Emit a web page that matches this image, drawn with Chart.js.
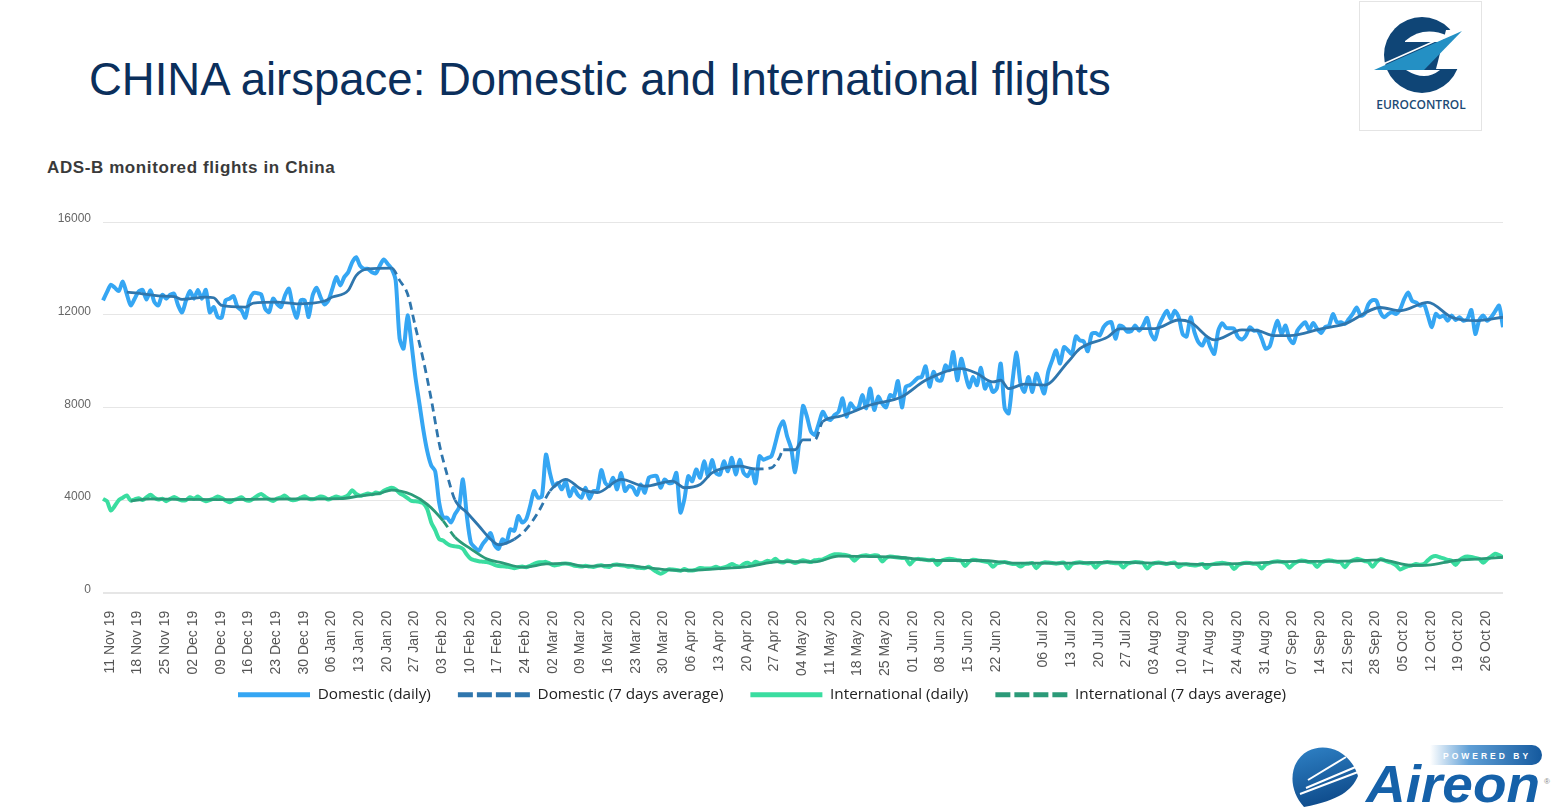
<!DOCTYPE html>
<html>
<head>
<meta charset="utf-8">
<title>CHINA airspace</title>
<script src="https://cdn.jsdelivr.net/npm/chart.js@4"></script>
<style>
    html, body { margin: 0; background: #fff; width: 1558px; height: 811px; overflow: hidden; }
    #title { position: absolute; left: 89px; top: 54px; margin: 0; font: 400 45.5px "Liberation Sans", Arial, sans-serif; color: #0b2f5c; white-space: nowrap; }
    #subtitle { position: absolute; left: 47px; top: 158px; margin: 0; font: 700 17px "Liberation Sans", Arial, sans-serif; letter-spacing: 0.6px; color: #3a3a3a; white-space: nowrap; }
    #chartBox { position: absolute; left: 21px; top: 200px; width: 1482px; height: 531px; }
    #euroLogo, #aireonLogo { position: absolute; left: 0; top: 0; }
</style>
</head>
<body>
<h1 id="title">CHINA airspace: Domestic and International flights</h1>
<h2 id="subtitle">ADS-B monitored flights in China</h2>

<svg id="euroLogo" width="1558" height="140">
    <rect x="1359.5" y="1.5" width="122" height="129" fill="#fff" stroke="#e4e4e4"/>
    <circle cx="1422" cy="55" r="38" fill="#0f4576"/>
    <path d="M1405 41 Q1424 25 1448 36 L1440 42 L1405 42 Z" fill="#fff"/>
    <path d="M1446 30 L1470 30 L1470 69 L1436 69 Z" fill="#fff"/>
    <path d="M1374 70 L1462 31 L1424 70 Z" fill="#2490c4"/>
    <path d="M1372 69 L1462 29" stroke="#fff" stroke-width="1.5" fill="none"/>
    <path d="M1406 70 L1440 70 Q1425 82 1406 70 Z" fill="#fff"/>
    <text x="1421" y="109" text-anchor="middle" font-family="Open Sans" font-weight="600" font-size="12" fill="#1c4a75">EUROCONTROL</text>
</svg>

<svg id="aireonLogo" width="1558" height="811" style="pointer-events:none">
    <defs>
        <linearGradient id="pill" x1="0" x2="1" y1="0" y2="0">
            <stop offset="0" stop-color="#ffffff"/>
            <stop offset="0.35" stop-color="#5f9fd6"/>
            <stop offset="1" stop-color="#14599e"/>
        </linearGradient>
        <linearGradient id="globe" x1="0" x2="0.3" y1="0" y2="1">
            <stop offset="0" stop-color="#2f82c6"/>
            <stop offset="1" stop-color="#0f4c8c"/>
        </linearGradient>
    </defs>
    <path d="M1430 745 H1532 a10 10 0 0 1 0 20 H1430 Z" fill="url(#pill)"/>
    <text x="1443" y="759" font-family="Liberation Sans" font-weight="700" font-size="8.5" letter-spacing="3" fill="#fff">POWERED BY</text>
    <path d="M1304 807 C1288 790 1288 762 1308 751 C1325 742 1350 750 1358 776 C1352 790 1340 800 1304 807 Z" fill="url(#globe)"/>
    <path d="M1308 780 L1346 757 M1300 794 L1358 772 M1306 788 L1358 766" stroke="#fff" stroke-width="2" fill="none"/>
    <text x="1366" y="802" font-family="Liberation Sans" font-weight="700" font-style="italic" font-size="52" fill="#1561a9" textLength="174" lengthAdjust="spacingAndGlyphs">Aireon</text>
    <text x="1544" y="784" font-family="Liberation Sans" font-size="8" fill="#888">®</text>
</svg>

<div id="chartBox"><canvas id="flightsChart" width="1482" height="531"></canvas></div>

<script>
// Tick labels as printed on the x axis (29 Jun is not on the original)
const tickLabels = [
    '11 Nov 19', '18 Nov 19', '25 Nov 19', '02 Dec 19', '09 Dec 19', '16 Dec 19', '23 Dec 19', '30 Dec 19',
    '06 Jan 20', '13 Jan 20', '20 Jan 20', '27 Jan 20', '03 Feb 20', '10 Feb 20', '17 Feb 20', '24 Feb 20',
    '02 Mar 20', '09 Mar 20', '16 Mar 20', '23 Mar 20', '30 Mar 20', '06 Apr 20', '13 Apr 20', '20 Apr 20',
    '27 Apr 20', '04 May 20', '11 May 20', '18 May 20', '25 May 20', '01 Jun 20', '08 Jun 20', '15 Jun 20',
    '22 Jun 20', '06 Jul 20', '13 Jul 20', '20 Jul 20', '27 Jul 20', '03 Aug 20', '10 Aug 20', '17 Aug 20',
    '24 Aug 20', '31 Aug 20', '07 Sep 20', '14 Sep 20', '21 Sep 20', '28 Sep 20', '05 Oct 20', '12 Oct 20',
    '19 Oct 20', '26 Oct 20'
];
const yTicks = [0, 4000, 8000, 12000, 16000];
const seriesNames = ['Domestic (daily)', 'Domestic (7 days average)', 'International (daily)', 'International (7 days average)'];

// daily flights, one value per day starting 10 Nov 19
const domesticDaily = [
    12620,12970,13290,13160,13020,13430,12900,12400,12690,13000,
    13070,12650,13050,12540,12400,12860,12690,12860,12900,12400,
    12100,12620,13020,12690,13070,12690,13070,12100,12330,11900,
    11870,12620,12690,12800,12330,12190,11870,12620,12930,12930,
    12870,12260,12110,12690,12470,12330,12830,13120,12330,11870,
    12620,12620,11900,12830,13160,12760,12440,12620,13120,13620,
    13260,13620,13830,14260,14480,14120,13980,13980,13830,13790,
    14120,14380,14190,13980,13480,10970,10540,11970,10750,9300,
    8170,7030,6100,5490,5240,3890,3240,3240,3030,3390,
    3670,4890,3310,2170,1960,1810,2100,2310,2570,2060,
    1890,2310,2170,2740,2670,3310,3030,3170,3740,4390,
    4100,4170,5960,5170,4600,4740,4460,4810,4170,4530,
    4240,4100,4530,4060,4390,4390,5290,4740,4600,4960,
    4460,5170,4390,4600,4530,4220,4670,4320,4960,5030,
    5030,4530,4890,4740,4740,5170,3460,4030,5030,4810,
    5320,4960,5670,5030,5720,5170,5100,5670,5240,5820,
    5100,5740,5170,5030,5320,4720,5890,5740,5810,5890,
    6450,7100,7390,6740,6240,5200,6450,8060,7600,6960,
    6810,7310,7810,7530,7460,7670,7810,8390,7600,8170,
    7960,7960,8530,7960,8810,7890,8460,8170,8000,8530,
    8460,9140,8000,8890,8960,9100,9270,9310,9770,8890,
    9530,9170,9170,9810,9600,10390,9170,10100,9460,8860,
    9310,8960,9710,8810,9100,8670,8810,9890,7960,7740,
    9170,10360,9030,8670,9310,8670,9460,9030,8600,9530,
    10030,10460,9890,10600,10460,10310,11060,10890,10840,10420,
    11170,11210,11100,11460,11640,11670,10960,11530,11460,11270,
    11290,11530,11310,11530,11860,11170,10930,11530,11890,12170,
    11810,12170,11890,11170,11060,11890,11240,10810,10670,11030,
    10600,10310,11310,11630,11430,11410,11390,11030,10930,11100,
    11460,11310,11310,10960,10530,10630,11240,11740,11170,11530,
    10960,10770,11310,11530,11670,11340,11640,11390,11210,11460,
    11530,12030,11670,11670,11600,11810,12030,12310,11960,12030,
    12460,12630,12600,12100,11890,12030,12100,12030,12240,12670,
    12960,12600,12530,12390,12460,11960,11460,12030,11890,11960,
    11740,11960,11770,11890,11740,11810,12200,11170,11770,11960,
    11740,11890,12140,12390,11460
];
const internationalDaily = [
    4050,3950,3550,3750,4000,4100,4200,3980,4030,4080,
    4000,4120,4230,4100,4020,4060,3950,4050,4130,4040,
    3980,4000,4120,4060,4150,4020,3950,4000,4060,4150,
    4090,3980,3900,4000,4050,4120,4000,3970,4060,4180,
    4260,4140,4030,3960,4060,4110,4190,4050,3990,4020,
    4100,4160,4060,4030,4080,4150,4120,4020,4090,4150,
    4100,4130,4220,4420,4260,4180,4230,4280,4250,4320,
    4290,4400,4480,4530,4460,4300,4200,4080,3960,3950,
    3920,3860,3600,3030,2700,2320,2250,2120,2030,2000,
    1980,1890,1650,1460,1400,1360,1340,1320,1280,1200,
    1150,1140,1120,1100,1060,1100,1130,1100,1160,1250,
    1310,1310,1330,1260,1180,1200,1250,1260,1240,1170,
    1150,1130,1160,1130,1110,1160,1180,1130,1110,1200,
    1220,1180,1160,1120,1130,1080,1070,1060,1120,1010,
    900,815,900,1010,1000,980,950,1020,960,960,
    1000,1070,1050,1040,1060,1120,1060,1090,1150,1240,
    1160,1120,1240,1290,1210,1340,1270,1300,1380,1340,
    1460,1340,1300,1390,1350,1280,1340,1400,1360,1320,
    1400,1420,1440,1520,1600,1660,1660,1640,1620,1560,
    1380,1540,1600,1620,1580,1620,1600,1350,1500,1560,
    1540,1520,1500,1480,1220,1400,1460,1440,1420,1400,
    1420,1200,1380,1440,1460,1440,1400,1380,1150,1340,
    1420,1400,1380,1340,1300,1120,1260,1300,1320,1280,
    1240,1230,1130,1230,1250,1280,1060,1240,1310,1300,
    1280,1250,1280,1300,1040,1230,1290,1310,1280,1260,
    1280,1080,1250,1300,1320,1290,1270,1260,1090,1250,
    1300,1330,1310,1280,1040,1210,1280,1300,1270,1240,
    1280,1300,1110,1210,1230,1190,1170,1200,1240,1070,
    1200,1240,1270,1290,1260,1230,1020,1190,1260,1290,
    1280,1250,1230,1040,1220,1290,1340,1360,1330,1280,
    1080,1240,1340,1390,1370,1320,1300,1110,1300,1370,
    1400,1370,1330,1310,1100,1300,1400,1460,1420,1370,
    1330,1120,1320,1450,1400,1330,1280,1180,1000,1080,
    1150,1180,1240,1210,1240,1400,1540,1580,1530,1480,
    1420,1380,1200,1400,1520,1560,1540,1500,1460,1290,
    1450,1560,1680,1620,1530
];

// 7 day averages at these day numbers
const domesticAvgDays = [
    6,10,14,18,20,26,28,30,36,38,44,49,56,58,62,64,67,73,75,77,79,81,83,85,87,89,92,95,98,100,
    104,107,110,113,115,117,121,125,131,137,144,147,151,154,161,165,169,171,172,175,177,180,182,186,
    194,202,208,217,221,225,227,229,233,238,244,247,254,257,266,272,275,281,288,292,296,300,308,314,
    323,328,335,341,347,354
];
const domesticAvgValues = [
    12970,12900,12810,12780,12660,12760,12730,12400,12330,12500,12540,12470,12590,12760,13050,13690,13980,14010,13480,12900,11470,10040,8350,6450,5100,4000,3460,2890,2310,2070,
    2310,2740,3460,4390,4720,4890,4460,4320,4890,4600,4820,4530,4670,5170,5460,5340,5390,5820,6170,6170,6600,6600,7390,7600,
    8100,8460,9170,9670,9460,9100,9170,8810,9000,8960,9960,10530,11030,11390,11400,11770,11670,10910,11340,11310,11100,11100,11390,11600,
    12310,12170,12530,11890,11740,11890
];
const internationalAvgDays = [
    7,12,20,30,40,50,60,65,70,73,78,82,86,89,93,97,101,106,112,117,122,131,137,142,148,155,163,171,
    180,186,194,201,211,222,231,243,255,267,278,290,302,314,323,331,335,342,348,354
];
const internationalAvgValues = [
    3950,4050,4030,4020,4040,4050,4060,4180,4290,4430,4240,3810,3100,2390,1890,1460,1290,1100,1240,1270,1140,1200,1090,1000,960,1030,1130,1340,
    1330,1580,1560,1530,1390,1390,1275,1275,1320,1275,1220,1275,1350,1360,1420,1175,1190,1390,1460,1530
];

// daily categories, the two days after 28 Jun 20 are absent from the source axis
const monthNames = ['Jan', 'Feb', 'Mar', 'Apr', 'May', 'Jun', 'Jul', 'Aug', 'Sep', 'Oct', 'Nov', 'Dec'];
const categories = [];
for (let t = Date.UTC(2019, 10, 10); categories.length < domesticDaily.length; t += 86400000) {
    const d = new Date(t);
    const label = String(d.getUTCDate()).padStart(2, '0') + ' ' + monthNames[d.getUTCMonth()] + ' ' + String(d.getUTCFullYear()).slice(2);
    if (label !== '29 Jun 20' && label !== '30 Jun 20') categories.push(label);
}

// Averages are kept sparse, line is spanned over the gaps
function sparse(days, values) {
    const out = categories.map(_ => null);
    days.forEach((d, i) => { out[d] = values[i]; });
    return out;
}

const dashDomestic = [[74, 89], [106, 113], [165, 172], [179, 182]];
const dashInternational = [[86, 89]];
const dashedIn = spans => ctx => spans.some(s => ctx.p0DataIndex >= s[0] && ctx.p0DataIndex < s[1]) ? [8, 5] : [];
const legendDash = [15, 4];

// Legend sits closer to the rotated tick labels than the layout allows
const raiseLegend = {
    id: 'raiseLegend',
    afterLayout(chart) {
        chart.legend.top -= 18.5;
        chart.legend.bottom -= 18.5;
    }
};

const flightsConfig = {
    type: 'line',
    plugins: [raiseLegend],
    data: {
        labels: categories,
        datasets: [{
            label: seriesNames[0],
            data: domesticDaily,
            borderColor: '#35a6f3',
            borderWidth: 4,
            tension: 0.25,
            order: 3,
        }, {
            label: seriesNames[1],
            data: sparse(domesticAvgDays, domesticAvgValues),
            borderColor: '#2f76ad',
            borderWidth: 2.8,
            cubicInterpolationMode: 'monotone',
            spanGaps: true,
            segment: { borderDash: dashedIn(dashDomestic) },
            order: 1,
        }, {
            label: seriesNames[2],
            data: internationalDaily,
            borderColor: '#3adda0',
            borderWidth: 4,
            tension: 0.25,
            order: 4,
        }, {
            label: seriesNames[3],
            data: sparse(internationalAvgDays, internationalAvgValues),
            borderColor: '#2b9a78',
            borderWidth: 2.8,
            cubicInterpolationMode: 'monotone',
            spanGaps: true,
            segment: { borderDash: dashedIn(dashInternational) },
            order: 2,
        }]
    },
    options: {
        responsive: false,
        animation: false,
        devicePixelRatio: 1,
        layout: { padding: { top: 22 } },
        elements: { point: { radius: 0 } },
        plugins: {
            title: { display: false },
            tooltip: { enabled: false },
            legend: {
                position: 'bottom',
                labels: {
                    usePointStyle: true,
                    pointStyle: 'line',
                    pointStyleWidth: 72,
                    padding: 27,
                    color: '#222',
                    font: { family: '"Open Sans"', size: 15.3 },
                    sort: (a, b) => a.datasetIndex - b.datasetIndex,
                    generateLabels: chart => Chart.defaults.plugins.legend.labels.generateLabels(chart).map(item => {
                        item.lineWidth = 5;
                        item.lineDash = item.datasetIndex % 2 ? legendDash : [];
                        return item;
                    }),
                }
            }
        },
        scales: {
            y: {
                min: 0,
                max: 16000,
                afterBuildTicks: axis => { axis.ticks = yTicks.map(value => ({ value })); },
                afterFit: axis => { axis.width = 82; },
                border: { display: false },
                grid: {
                    drawTicks: false,
                    color: '#e6e6e6',
                    lineWidth: ctx => ctx.tick && ctx.tick.value === 0 ? 2 : 1,
                },
                ticks: {
                    padding: 12,
                    color: '#666',
                    font: { family: '"Liberation Sans"', size: 12, lineHeight: 0.5 },
                    // blank second line lifts the label a little above its grid line
                    callback: value => [String(value), ''],
                }
            },
            x: {
                afterFit: axis => {
                    axis.height = 86;
                    axis.paddingRight = 0;
                },
                border: { display: false },
                grid: { display: false },
                ticks: {
                    autoSkip: false,
                    minRotation: 90,
                    maxRotation: 90,
                    padding: 10,
                    labelOffset: 3,
                    color: '#555',
                    font: { family: '"Liberation Sans"', size: 14 },
                    callback(value) {
                        const label = this.getLabelForValue(value);
                        return tickLabels.includes(label) ? label : null;
                    },
                }
            }
        }
    }
};

const flightsChart = new Chart(document.getElementById('flightsChart'), flightsConfig);
</script>
</body>
</html>
